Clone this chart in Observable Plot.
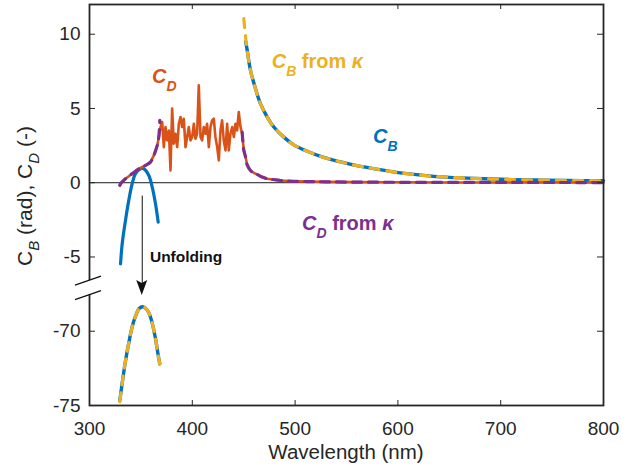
<!DOCTYPE html>
<html><head><meta charset="utf-8">
<script src="https://cdn.jsdelivr.net/npm/d3@7"></script>
<script src="https://cdn.jsdelivr.net/npm/@observablehq/plot@0.6"></script>
<style>body{margin:0;background:#fff;} svg{display:block} text{white-space:pre}</style>
</head><body><div id="chart"></div>
<script>
// ---------- data ----------
const xTicks = [300, 400, 500, 600, 700, 800];
const yTicksReal = [-75, -70, -5, 0, 5, 10];
const breakOffset = 60; // values below the axis break are shifted up by this amount

// C_D (measured, noisy)
const cdWl = [329.5, 330.2, 335.0, 341.5, 348.0, 354.5, 359.3, 362.6, 365.9, 367.4,
  369.1, 370.7, 372.3, 373.9, 375.5, 377.2, 378.8, 380.4, 382.0, 383.6, 385.3, 386.9, 388.5, 390.1, 391.7,
  393.4, 395.0, 396.6, 398.2, 399.9, 401.5, 403.1, 404.7, 406.3, 408.0, 409.6, 411.2, 412.8, 414.4, 416.1,
  417.7, 419.3, 420.9, 422.5, 424.2, 425.8, 427.4, 429.0, 430.6, 432.3, 433.9, 435.5, 437.1, 438.8, 440.4,
  442.0, 443.6, 445.2, 446.9, 448.5,
  450.1, 451.8, 453.4, 456.6, 460.0, 463.1, 468.0, 472.9, 480.0, 485.8, 495.0, 511.8, 530.0, 560.0, 600.0,
  650.0, 700.0, 750.0, 800.0];
const cdVal = [-0.18, -0.07, 0.27, 0.61, 0.94, 1.17, 1.39, 1.84, 2.51, 3.07,
  3.75, 4.09, 2.40, 3.75, 2.85, 3.52, 0.83, 4.99, 2.63, 3.30, 2.40, 3.97, 4.42, 3.75, 4.31,
  2.40, 3.08, 3.75, 2.85, 3.08, 3.97, 2.96, 3.30, 6.56, 3.08, 2.85, 3.75, 3.30, 3.97, 2.40,
  3.75, 4.20, 4.31, 3.08, 2.40, 1.50, 3.52, 4.20, 2.85, 2.18, 3.97, 2.18, 3.30, 3.75, 3.08,
  3.97, 3.52, 4.76, 3.75, 3.30,
  2.20, 1.73, 1.20, 0.82, 0.65, 0.56, 0.38, 0.27, 0.20, 0.15, 0.11, 0.08, 0.06, 0.04, 0.03,
  0.02, 0.02, 0.015, 0.01];

// C_D from kappa (gap in the absorption band)
const cdkWl = [329.5, 330.2, 335.0, 341.5, 348.0, 354.5, 359.3, 362.6, 365.9, 367.4, 368.4, 408.0,
  448.5, 450.1, 451.8, 453.4, 456.6, 460.0, 463.1, 468.0, 472.9, 480.0, 485.8, 495.0, 511.8, 530.0, 560.0, 600.0,
  650.0, 700.0, 750.0, 800.0];
const cdkVal = [-0.18, -0.07, 0.27, 0.61, 0.94, 1.17, 1.39, 1.84, 2.51, 3.07, 4.20, null,
  3.40, 2.20, 1.73, 1.20, 0.82, 0.65, 0.56, 0.38, 0.27, 0.20, 0.15, 0.11, 0.08, 0.06, 0.04, 0.03,
  0.02, 0.02, 0.015, 0.01];

// C_B wrapped (short segment in the band)
const cbTopWl = [330.2, 331.8, 335.0, 338.2, 341.5, 344.7, 349.6, 352.8, 357.7, 361.0, 364.2, 366.8];
const cbTopVal = [-5.46, -4.11, -2.54, -1.19, -0.07, 0.61, 0.94, 0.94, 0.49, -0.29, -1.42, -2.65];

// C_B unfolded (below the axis break)
const cbUnfWl = [329.5, 331.8, 335.0, 338.2, 341.5, 344.7, 348.0, 351.3, 354.5, 357.7, 361.0, 364.2, 366.8, 368.4];
const cbUnfVal = [-74.65, -73.5, -72.0, -70.8, -69.7, -69.0, -68.5, -68.35, -68.45, -68.75, -69.45, -70.5, -71.6, -72.2];
const cbkUnfVal = [-74.75, -73.5, -72.0, -70.8, -69.7, -69.0, -68.5, -68.35, -68.45, -68.75, -69.45, -70.5, -71.6, -72.2];

// C_B and C_B from kappa (long-wavelength branch)
const cbWl = [452.0, 453.4, 456.6, 461.5, 466.3, 472.9, 479.3, 489.0, 498.7, 511.8, 527.9, 544.2, 560.0, 576.6,
  602.5, 634.9, 667.4, 699.8, 732.2, 764.7, 800.0];
const cbVal = [9.5, 8.91, 7.57, 6.33, 5.32, 4.42, 3.75, 3.07, 2.55, 2.12, 1.70, 1.40, 1.15, 0.95,
  0.66, 0.43, 0.31, 0.23, 0.18, 0.15, 0.13];
const cbkWl = [450.1, 451.8, 453.4, 456.6, 461.5, 466.3, 472.9, 479.3, 489.0, 498.7, 511.8, 527.9, 544.2, 560.0, 576.6,
  602.5, 634.9, 667.4, 699.8, 732.2, 764.7, 800.0];
const cbkVal = [11.05, 9.81, 8.91, 7.57, 6.33, 5.32, 4.42, 3.75, 3.07, 2.55, 2.12, 1.70, 1.40, 1.15, 0.95,
  0.66, 0.43, 0.31, 0.23, 0.18, 0.15, 0.13];

// arrow ("Unfolding")
const arrowWl = 351.3, arrowFrom = -0.9, arrowTo = -67.6;

// ---------- helpers ----------
const yv = v => (v == null ? NaN : (v < -30 ? v + breakOffset : v));
const rows = (xs, ys) => xs.map((x, i) => ({x, y: yv(ys[i])}));
const fmtY = d => String(d < -7 ? d - breakOffset : d);

const C = {blue: "#0072BD", orange: "#D95319", yellow: "#EDB120", purple: "#7E2F8E", axis: "#262626"};
const W = 630, H = 468, mL = 89, mR = 27, mT = 4, mB = 63;
const innerW = W - mL - mR, innerH = H - mT - mB;
const tick = 5;
const yTicksV = yTicksReal.map(yv);

const plot = Plot.plot({
  width: W, height: H,
  marginLeft: mL, marginRight: mR, marginTop: mT, marginBottom: mB,
  style: {fontFamily: "'Liberation Sans', Arial, Helvetica, sans-serif", fontSize: "19px", color: C.axis, background: "#fff", overflow: "visible"},
  x: {domain: [300, 800]},
  y: {domain: [-15, 12]},
  marks: [
    Plot.ruleY([0], {stroke: "#1a1a1a", strokeWidth: 1}),
    Plot.line(rows(cbTopWl, cbTopVal), {x: "x", y: "y", stroke: C.blue, strokeWidth: 3.2, curve: "catmull-rom"}),
    Plot.line(rows(cbUnfWl, cbUnfVal), {x: "x", y: "y", stroke: C.blue, strokeWidth: 3.4, curve: "catmull-rom"}),
    Plot.line(rows(cbUnfWl, cbkUnfVal), {x: "x", y: "y", stroke: C.yellow, strokeWidth: 3.2, strokeDasharray: "9,8", curve: "catmull-rom"}),
    Plot.line(rows(cbWl, cbVal), {x: "x", y: "y", stroke: C.blue, strokeWidth: 3.4, curve: "catmull-rom"}),
    Plot.line(rows(cbkWl, cbkVal), {x: "x", y: "y", stroke: C.yellow, strokeWidth: 3.2, strokeDasharray: "9,8", curve: "catmull-rom"}),
    Plot.line(rows(cdWl, cdVal), {x: "x", y: "y", stroke: C.orange, strokeWidth: 2.6}),
    Plot.line(rows(cdkWl, cdkVal), {x: "x", y: "y", stroke: C.purple, strokeWidth: 3.2, strokeDasharray: "9,7", curve: "catmull-rom"}),
    Plot.ruleX([arrowWl], {y1: yv(arrowFrom), y2: yv(arrowTo) + 0.8, stroke: "#111", strokeWidth: 1}),
    // inward ticks (bottom, top, left, right)
    Plot.tickX(xTicks.slice(1, -1), {x: d => d, insetTop: innerH - tick, stroke: C.axis, strokeWidth: 1}),
    Plot.tickX(xTicks.slice(1, -1), {x: d => d, insetBottom: innerH - tick, stroke: C.axis, strokeWidth: 1}),
    Plot.tickY(yTicksV.slice(1), {y: d => d, insetRight: innerW - tick - 1, stroke: C.axis, strokeWidth: 1}),
    Plot.tickY(yTicksV.slice(1), {y: d => d, insetLeft: innerW - tick - 1, stroke: C.axis, strokeWidth: 1}),
    Plot.axisX(xTicks, {tickSize: 0, tickPadding: 16, label: null, fill: C.axis}),
    Plot.axisY(yTicksV, {tickSize: 0, tickPadding: 9, tickFormat: fmtY, label: null, fill: C.axis}),
    Plot.frame({stroke: C.axis, strokeWidth: 1.8})
  ]
});

document.getElementById("chart").appendChild(plot);

// ---------- annotations ----------
const sx = plot.scale("x"), sy = plot.scale("y");
const svg = d3.select(plot);
const g = svg.append("g").attr("font-family", "'Liberation Sans', Arial, Helvetica, sans-serif");

function rich(parts, x, y, o) {
  const t = g.append("text").attr("x", x).attr("y", y).attr("fill", o.color)
    .attr("font-size", o.size).attr("font-weight", o.weight || "normal")
    .attr("text-anchor", o.anchor || "start");
  if (o.transform) t.attr("transform", o.transform);
  let shift = 0;
  parts.forEach(p => {
    const s = t.append("tspan").text(p.t);
    const target = p.sub ? o.subShift : 0;
    if (target !== shift) { s.attr("dy", target - shift); shift = target; }
    if (p.sub) s.attr("font-size", o.subSize);
    if (p.i) s.attr("font-style", "italic");
  });
}

const bold = {weight: "bold", size: 20, subSize: 14, subShift: 8};
rich([{t: "C", i: 1}, {t: "D", i: 1, sub: 1}], sx.apply(361.3), sy.apply(6.69), {...bold, color: C.orange});
rich([{t: "C", i: 1}, {t: "B", i: 1, sub: 1}, {t: " from "}, {t: "κ", i: 1}], sx.apply(477.7), sy.apply(7.68), {...bold, color: C.yellow});
rich([{t: "C", i: 1}, {t: "B", i: 1, sub: 1}], sx.apply(576.3), sy.apply(2.65), {...bold, color: C.blue});
rich([{t: "C", i: 1}, {t: "D", i: 1, sub: 1}, {t: " from "}, {t: "κ", i: 1}], sx.apply(507.2), sy.apply(-3.21), {...bold, color: C.purple});
g.append("text").attr("x", sx.apply(359.3)).attr("y", sy.apply(-5.37)).attr("font-size", 15.5)
  .attr("text-anchor", "start").attr("font-weight", "bold").attr("fill", "#111").text("Unfolding");

// axis labels
g.append("text").attr("x", (mL + W - mR) / 2).attr("y", 459).attr("text-anchor", "middle")
  .attr("font-size", 20.5).attr("fill", C.axis).text("Wavelength (nm)");
rich([{t: "C"}, {t: "B", i: 1, sub: 1}, {t: " (rad), C"}, {t: "D", i: 1, sub: 1}, {t: " (-)"}], 0, 0,
  {size: 21, subSize: 15, subShift: 7, color: C.axis, anchor: "middle", transform: "translate(32,196) rotate(-90)"});

// arrow head
const ax = sx.apply(arrowWl), ay = sy.apply(yv(arrowTo));
g.append("path").attr("d", `M${ax},${ay} L${ax - 5.5},${ay - 15} L${ax},${ay - 12} L${ax + 5.5},${ay - 15} Z`).attr("fill", "#111");

// axis break marks on the left axis
const bx = sx.apply(300), b1 = sy.apply(-6.62), b2 = sy.apply(-7.6);
g.append("path").attr("d", `M${bx - 14},${b1 + 4.5} L${bx + 12},${b1 - 4.5} L${bx + 12},${b2 - 4.5} L${bx - 14},${b2 + 4.5} Z`).attr("fill", "#fff");
[b1, b2].forEach(b => g.append("line").attr("x1", bx - 14).attr("y1", b + 4.5).attr("x2", bx + 12).attr("y2", b - 4.5)
  .attr("stroke", "#111").attr("stroke-width", 1.3));
</script></body></html>
